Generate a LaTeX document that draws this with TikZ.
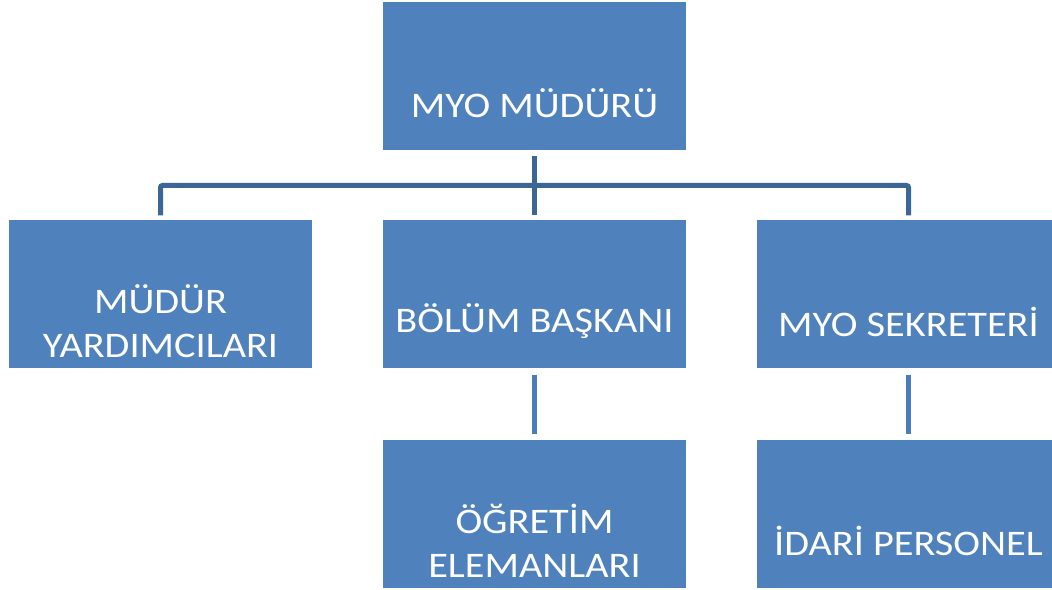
\documentclass[tikz,border=0pt]{standalone}
\usepackage{fontspec}
\setmainfont{Carlito}[FakeStretch=1.12]
\usetikzlibrary{positioning}
\definecolor{boxblue}{HTML}{4F81BD}
\definecolor{linkblue}{HTML}{3C6696}
\definecolor{linkblue2}{HTML}{4A7DBA}

\begin{document}
\begin{tikzpicture}[x=1pt, y=1pt,
        orgbox/.style={rectangle, fill=boxblue, inner sep=0pt,
            minimum width=303pt, minimum height=148pt},
        boxtext/.style={text=white, align=center, yshift=-27pt,
            font=\fontsize{36}{44}\selectfont},
        link/.style={draw=linkblue, line width=5pt},
        link2/.style={draw=linkblue2, line width=5pt}]
    \useasboundingbox (0, 0) rectangle (1052, 589);
    \node[orgbox, label={[boxtext]center:MYO MÜDÜRÜ}] (mudur) at (534.5, 513) {};
    \node[orgbox, label={[boxtext]center:MÜDÜR\\YARDIMCILARI}] (yard) at (160.5, 294.5) {};
    \node[orgbox, label={[boxtext]center:BÖLÜM BAŞKANI}] (bolum) at (534.5, 294.5) {};
    \node[orgbox, label={[boxtext]center:MYO SEKRETERİ}] (sekr) at (908.5, 294.5) {};
    \node[orgbox, label={[boxtext]center:ÖĞRETİM\\ELEMANLARI}] (ogr) at (534.5, 75) {};
    \node[orgbox, label={[boxtext]center:İDARİ PERSONEL}] (idari) at (908.5, 75) {};
    \coordinate (bus) at (534.5, 403.5);
    \draw[link] ([yshift=-6pt]mudur.south) -- ([yshift=5pt]bolum.north);
    \draw[link, rounded corners=2pt] ([yshift=5pt]yard.north) |- (bus)
        -| ([yshift=5pt]sekr.north);
    \draw[link2] ([yshift=-6pt]bolum.south) -- ([yshift=6pt]ogr.north);
    \draw[link2] ([yshift=-6pt]sekr.south) -- ([yshift=6pt]idari.north);
\end{tikzpicture}
\end{document}
